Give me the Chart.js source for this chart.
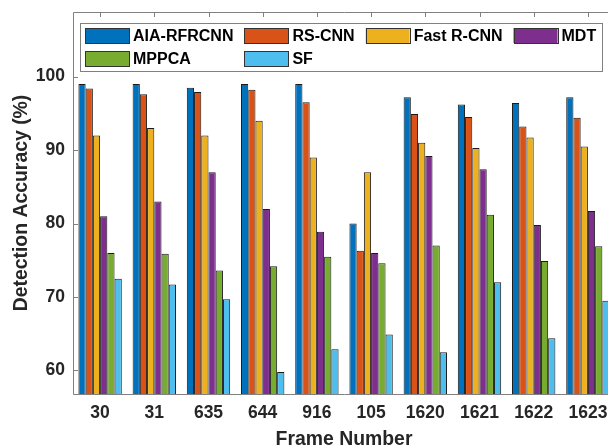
<!DOCTYPE html>
<html>
<head>
<meta charset="utf-8">
<script src="https://cdn.jsdelivr.net/npm/chart.js@4.4.1/dist/chart.umd.min.js"></script>
<style>
  html, body { margin: 0; padding: 0; background: #fff; width: 608px; height: 446px; overflow: hidden; }
  #wrap { position: absolute; left: 0; top: 0; width: 630px; height: 462px; }
</style>
</head>
<body>
<div id="wrap"><canvas id="c" width="630" height="462"></canvas></div>
<script>
// Detection accuracy (%) per test frame
const FRAMES = ['30', '31', '635', '644', '916', '105', '1620', '1621', '1622', '1623'];
const AIA_RFRCNN = [99.0, 99.0, 98.5, 99.0, 99.0, 80.0, 97.2, 96.2, 96.4, 97.2];
const RS_CNN     = [98.4, 97.6, 97.9, 98.2, 96.5, 76.3, 94.9, 94.5, 93.2, 94.4];
const FAST_RCNN  = [92.0, 93.0, 92.0, 94.0, 89.0, 87.0, 91.0, 90.3, 91.7, 90.5];
const MDT        = [81.0, 83.0, 87.0, 82.0, 78.9, 76.0, 89.2, 87.4, 79.8, 81.7];
const MPPCA      = [76.0, 75.9, 73.6, 74.2, 75.5, 74.6, 77.0, 81.2, 74.9, 76.9];
const SF         = [72.5, 71.7, 69.7, 59.8, 62.9, 64.9, 62.5, 72.0, 64.4, 69.5];
const Y_TICKS = [60, 70, 80, 90, 100];

const FONT = '"Liberation Sans", Arial, Helvetica, sans-serif';
const TEXT = '#262626';
const AXIS = '#808080';

const series = [
  { label: 'AIA-RFRCNN', data: AIA_RFRCNN, color: '#0072BD' },
  { label: 'RS-CNN',     data: RS_CNN,     color: '#D95319' },
  { label: 'Fast R-CNN', data: FAST_RCNN,  color: '#EDB120' },
  { label: 'MDT',        data: MDT,        color: '#7E2F8E' },
  { label: 'MPPCA',      data: MPPCA,      color: '#77AC30' },
  { label: 'SF',         data: SF,         color: '#4DBEEE' }
];

// Box frame with inward tick marks on the left and top edges
const axesBox = {
  id: 'axesBox',
  afterDatasetsDraw(chart) {
    const { ctx, chartArea: a, scales: { x, y } } = chart;
    ctx.save();
    ctx.strokeStyle = AXIS;
    ctx.lineWidth = 1;
    ctx.beginPath();
    ctx.rect(Math.round(a.left) + 0.5, Math.round(a.top) + 0.5,
             Math.round(a.right - a.left), Math.round(a.bottom - a.top));
    for (const v of Y_TICKS) {
      const py = Math.round(y.getPixelForValue(v)) + 0.5;
      ctx.moveTo(a.left, py); ctx.lineTo(a.left + 5, py);
    }
    FRAMES.forEach((_, i) => {
      const px = Math.round(x.getPixelForValue(i)) + 0.5;
      ctx.moveTo(px, a.top); ctx.lineTo(px, a.top + 5);
    });
    ctx.stroke();
    ctx.restore();
  }
};

// Framed legend laid out in fixed columns, two rows
const gridLegend = {
  id: 'gridLegend',
  afterDraw(chart, args, o) {
    const ctx = chart.ctx;
    const ds = chart.data.datasets;
    ctx.save();
    ctx.font = `bold ${o.fontSize}px ${FONT}`;
    const colW = [];
    ds.forEach((d, i) => {
      const c = i % o.columns;
      colW[c] = Math.max(colW[c] || 0, ctx.measureText(d.label).width);
    });
    const colX = [];
    let cx = o.left + o.padLeft;
    colW.forEach((w, c) => { colX[c] = cx; cx += o.textOffset + w + o.colGap; });
    const right = colX[o.columns - 1] + o.textOffset + colW[o.columns - 1] + o.padRight;
    ctx.fillStyle = '#fff';
    ctx.fillRect(o.left, o.top, right - o.left, o.bottom - o.top);
    ctx.strokeStyle = AXIS;
    ctx.lineWidth = 1;
    ctx.strokeRect(Math.round(o.left) + 0.5, Math.round(o.top) + 0.5,
                   Math.round(right - o.left), Math.round(o.bottom - o.top));
    ds.forEach((d, i) => {
      const c = i % o.columns, r = Math.floor(i / o.columns);
      const cy = o.rowCenters[r];
      const sx = colX[c];
      ctx.fillStyle = d.backgroundColor;
      ctx.fillRect(sx, cy - o.swatchH / 2, o.swatchW, o.swatchH);
      ctx.strokeStyle = '#333';
      ctx.strokeRect(Math.round(sx) + 0.5, Math.round(cy - o.swatchH / 2) + 0.5, o.swatchW, o.swatchH);
      ctx.fillStyle = '#000';
      ctx.textBaseline = 'middle';
      ctx.textAlign = 'left';
      ctx.fillText(d.label, sx + o.textOffset, cy + 1);
    });
    ctx.restore();
  }
};

new Chart(document.getElementById('c'), {
  type: 'bar',
  data: {
    labels: FRAMES,
    datasets: series.map(s => ({
      label: s.label,
      data: s.data,
      backgroundColor: s.color,
      borderColor: '#1a1a1a',
      borderWidth: 1,
      borderSkipped: false,
      categoryPercentage: 0.8,
      barPercentage: 1.0
    }))
  },
  options: {
    responsive: false,
    animation: false,
    devicePixelRatio: 1,
    layout: { padding: { left: 0, top: 12, right: 15, bottom: 0 } },
    plugins: {
      legend: { display: false },
      tooltip: { enabled: false },
      gridLegend: {
        left: 80, top: 23, bottom: 71,
        padLeft: 5, padRight: 5.5,
        textOffset: 48, colGap: 11, columns: 4,
        swatchW: 44, swatchH: 15,
        rowCenters: [35.5, 58.5],
        fontSize: 16
      }
    },
    scales: {
      x: {
        grid: { display: false, drawTicks: false },
        border: { display: false },
        ticks: {
          padding: 9, color: TEXT, maxRotation: 0, autoSkip: false,
          font: { family: FONT, size: 17.5, weight: 'bold' }
        },
        title: {
          display: true, text: 'Frame Number', color: TEXT,
          font: { family: FONT, size: 19.4, weight: 'bold' },
          padding: { top: 0, bottom: 11 }
        },
        afterFit(s) {
          s.height = 462 - 394;
          s.paddingLeft = 0; s.paddingRight = 0;
        }
      },
      y: {
        min: 56.8,
        max: 108.8,
        afterBuildTicks(s) { s.ticks = Y_TICKS.map(v => ({ value: v })); },
        grid: { display: false, drawTicks: false },
        border: { display: false },
        ticks: {
          padding: 8, color: TEXT,
          font: { family: FONT, size: 17.5, weight: 'bold' }
        },
        title: {
          display: true, text: 'Detection Accuracy (%)', color: TEXT,
          font: { family: FONT, size: 19.4, weight: 'bold' },
          padding: { top: 10, bottom: 0 }
        },
        afterFit(s) {
          s.width = 73;
          s.paddingTop = 0; s.paddingBottom = 0;
        }
      }
    }
  },
  plugins: [axesBox, gridLegend]
});
</script>
</body>
</html>
